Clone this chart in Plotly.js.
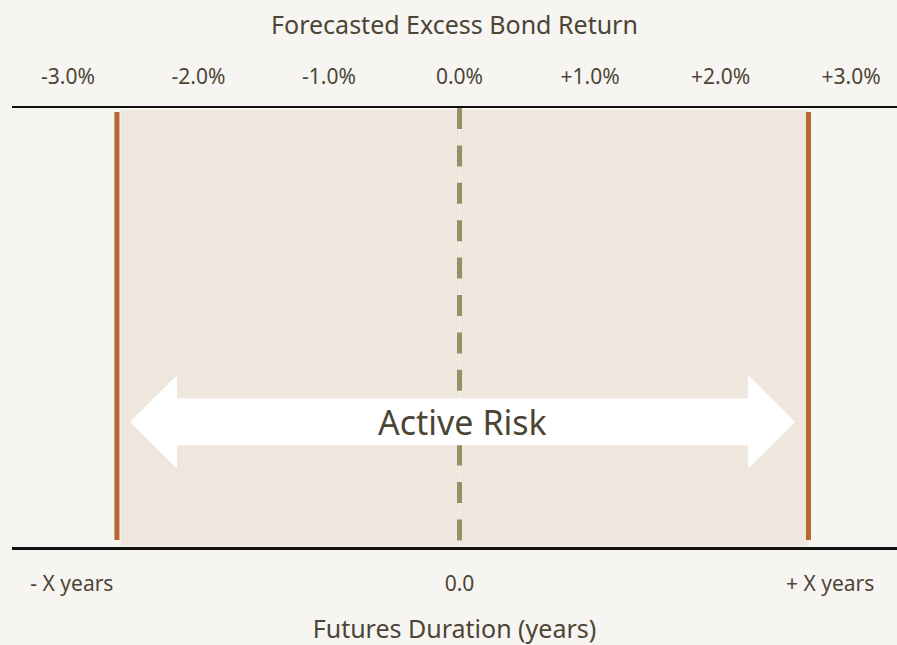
<!DOCTYPE html>
<html>
<head>
<meta charset="utf-8">
<script src="https://cdn.plot.ly/plotly-3.0.1.min.js"></script>
<style>
  html, body { margin: 0; padding: 0; background: #f7f5f1; }
  #chart { width: 897px; height: 645px; }
</style>
</head>
<body>
<div id="chart"></div>
<script>
// Top axis: forecasted excess bond return (%)
const returnTicks = [-3, -2, -1, 0, 1, 2, 3];
const returnLabels = ["-3.0%", "-2.0%", "-1.0%", "0.0%", "+1.0%", "+2.0%", "+3.0%"];

// Bottom axis: futures duration (conceptual, in the same units)
const durationTicks = [-2.97, 0, 2.84];
const durationLabels = ["- X years", "0.0", "+ X years"];

// Active risk band (duration limits) and neutral point
const bandLimits = [-2.625, 2.674];
const neutral = 0;

// Double arrow: tips, head backs, and vertical extents (fraction of plot height)
const arrowTips = [-2.525, 2.571];
const arrowHeadBacks = [-2.165, 2.211];
const arrowMidY = 0.285;
const arrowShaftHalf = 0.053;
const arrowHeadHalf = 0.106;
const arrowLabel = "Active Risk";

const xRange = [-3.429, 3.352];

const TEXT = "#4b4535";
const FONT = "Noto Sans, Open Sans, sans-serif";

function arrowPath() {
  const [l, r] = arrowTips;
  const [lb, rb] = arrowHeadBacks;
  const m = arrowMidY, s = arrowShaftHalf, h = arrowHeadHalf;
  return `M ${l},${m} L ${lb},${m + h} L ${lb},${m + s} L ${rb},${m + s} L ${rb},${m + h} ` +
         `L ${r},${m} L ${rb},${m - h} L ${rb},${m - s} L ${lb},${m - s} L ${lb},${m - h} Z`;
}

const shapes = [
  // shaded band
  { type: "rect", xref: "x", yref: "paper", x0: bandLimits[0] + 0.03, x1: bandLimits[1], y0: 0.003, y1: 0.995,
    fillcolor: "#efe6de", line: { width: 0 }, layer: "below" },
  // faint guide under the neutral line
  { type: "line", xref: "x", yref: "paper", x0: neutral, x1: neutral, y0: 0, y1: 1,
    line: { color: "#f6f0ea", width: 1 }, layer: "below" },
  // neutral dashed line (dash phase starts at the top)
  { type: "line", xref: "x", yref: "paper", x0: neutral, x1: neutral, y0: 1, y1: 0,
    line: { color: "#9b8e67", width: 5, dash: "21px,16.4px" } },
  // band limit lines
  ...bandLimits.map((v) => ({
    type: "line", xref: "x", yref: "paper", x0: v, x1: v, y0: 0.016, y1: 0.991,
    line: { color: "#b8652f", width: 5 },
  })),
  // double arrow
  { type: "path", xref: "x", yref: "y", path: arrowPath(), fillcolor: "#ffffff", line: { width: 0 } },
];

const trace = {
  x: returnTicks, y: returnTicks.map(() => null), type: "scatter", mode: "markers",
  xaxis: "x2", hoverinfo: "skip", showlegend: false,
};

const layout = {
  width: 897, height: 645,
  paper_bgcolor: "#f7f5f1", plot_bgcolor: "#f7f5f1",
  margin: { l: 12, r: 0, t: 108, b: 98 },
  font: { family: FONT, color: TEXT, size: 21 },
  showlegend: false,
  xaxis: {
    range: xRange, showgrid: false, zeroline: false, fixedrange: true,
    showline: true, linecolor: "#111111", linewidth: 2.5,
    tickmode: "array", tickvals: durationTicks, ticktext: durationLabels,
    ticks: "", ticklabelstandoff: 16,
    tickfont: { size: 21, color: TEXT },
    title: { text: "Futures Duration (years)", font: { size: 25, color: TEXT }, standoff: 32 },
  },
  xaxis2: {
    overlaying: "x", side: "top", matches: "x", range: xRange,
    showgrid: false, zeroline: false, fixedrange: true,
    showline: true, linecolor: "#111111", linewidth: 2.5,
    tickmode: "array", tickvals: returnTicks, ticktext: returnLabels,
    ticks: "", ticklabelstandoff: 13,
    tickfont: { size: 21, color: TEXT },
    title: { text: "Forecasted Excess Bond Return", font: { size: 25, color: TEXT }, standoff: 21 },
  },
  yaxis: { range: [0, 1], visible: false, fixedrange: true },
  shapes,
  annotations: [
    { x: (arrowTips[0] + arrowTips[1]) / 2, y: arrowMidY, xref: "x", yref: "y",
      text: arrowLabel, showarrow: false, font: { size: 34, color: TEXT } },
  ],
};

Plotly.newPlot("chart", [trace], layout, { displayModeBar: false, staticPlot: true });
</script>
</body>
</html>
